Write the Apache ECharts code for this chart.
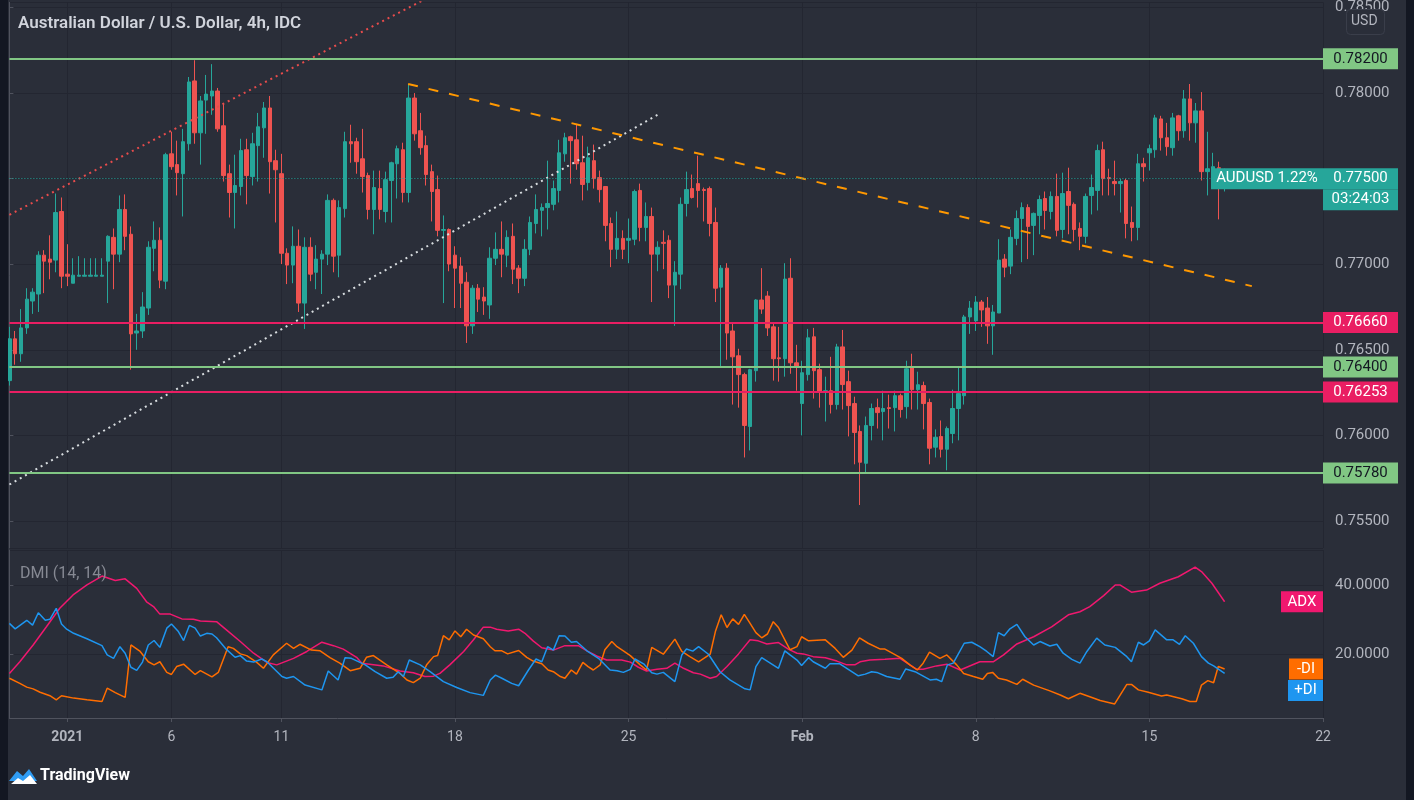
<!DOCTYPE html>
<html><head><meta charset="utf-8">
<script src="https://cdn.jsdelivr.net/npm/echarts@6/dist/echarts.min.js"></script>
<style>html,body{margin:0;padding:0;background:#2a2e39;}#c{width:1414px;height:800px;}</style>
</head><body><div id="c"></div>
<script>
// ---------- DATA ----------
const opens = [0.76320,0.76564,0.76477,0.76628,0.76785,0.76826,0.77053,0.77030,0.77024,0.77308,0.76942,0.76889,0.76930,0.76930,0.76930,0.76930,0.76930,0.77018,0.77157,0.77059,
0.77320,0.77175,0.76598,0.76610,0.76744,0.77093,0.77140,0.76901,0.77645,0.77582,0.77529,0.77704,0.78071,0.77768,0.77959,0.77983,0.78012,0.77809,0.77529,0.77419,
0.77454,0.77669,0.77512,0.77693,0.77797,0.77913,0.77605,0.77529,0.77064,0.76995,0.77105,0.76773,0.77099,0.76953,0.77030,0.77059,0.77373,0.77053,0.77325,0.77716,
0.77716,0.77616,0.77518,0.77320,0.77442,0.77308,0.77489,0.77587,0.77669,0.77419,0.77971,0.77780,0.77693,0.77541,0.77436,0.77198,0.77203,0.77053,0.76989,0.76895,
0.76640,0.76860,0.76808,0.76762,0.77035,0.77087,0.77053,0.77163,0.76977,0.76918,0.77087,0.77238,0.77315,0.77331,0.77350,0.77431,0.77645,0.77745,0.77727,0.77593,
0.77477,0.77605,0.77506,0.77454,0.77238,0.77087,0.77151,0.77140,0.77146,0.77431,0.77215,0.77279,0.77059,0.77128,0.77140,0.76878,0.76942,0.77355,0.77442,0.77471,
0.77436,0.77442,0.77244,0.76866,0.76977,0.76610,0.76465,0.76355,0.76052,0.76378,0.76791,0.76814,0.76634,0.76453,0.76448,0.76918,0.76424,0.76186,0.76355,0.76576,
0.76384,0.76256,0.76261,0.76180,0.76517,0.76314,0.76186,0.76023,0.75837,0.76058,0.76162,0.76139,0.76162,0.76162,0.76232,0.76168,0.76395,0.76267,0.76291,0.76192,
0.75931,0.75994,0.75919,0.76011,0.76157,0.76232,0.76692,0.76669,0.76779,0.76744,0.76640,0.76715,0.77030,0.76989,0.77151,0.77267,0.77331,0.77227,0.77285,0.77384,
0.77308,0.77396,0.77203,0.77425,0.77350,0.77209,0.77163,0.77402,0.77431,0.77669,0.77506,0.77483,0.77471,0.77489,0.77244,0.77215,0.77587,0.77651,0.77669,0.77849,
0.77739,0.77681,0.77867,0.77780,0.77966,0.77826,0.77896,0.77541,0.77547,0.77564,0.77483];
const closes = [0.76564,0.76477,0.76628,0.76796,0.76837,0.77053,0.77018,0.77012,0.77302,0.76930,0.76930,0.76936,0.76936,0.76936,0.76936,0.76936,0.76936,0.77163,0.77059,0.77320,
0.77163,0.76593,0.76610,0.76750,0.77099,0.77140,0.76907,0.77640,0.77570,0.77535,0.77716,0.78065,0.77768,0.77954,0.77994,0.78012,0.77791,0.77518,0.77419,0.77460,
0.77664,0.77518,0.77704,0.77803,0.77913,0.77599,0.77552,0.77064,0.76995,0.77105,0.76773,0.77099,0.76942,0.77030,0.77059,0.77373,0.77047,0.77331,0.77716,0.77704,
0.77599,0.77512,0.77320,0.77448,0.77320,0.77494,0.77593,0.77675,0.77419,0.77971,0.77762,0.77681,0.77524,0.77425,0.77198,0.77203,0.77001,0.76977,0.76889,0.76640,
0.76860,0.76796,0.76785,0.77035,0.77087,0.77059,0.77157,0.76971,0.76918,0.77087,0.77244,0.77320,0.77331,0.77355,0.77442,0.77651,0.77739,0.77722,0.77587,0.77466,
0.77622,0.77500,0.77436,0.77227,0.77087,0.77151,0.77087,0.77151,0.77425,0.77215,0.77279,0.77059,0.77099,0.77122,0.76878,0.76953,0.77350,0.77436,0.77390,0.77431,
0.77431,0.77238,0.76860,0.76977,0.76598,0.76459,0.76355,0.76058,0.76384,0.76791,0.76738,0.76628,0.76448,0.76448,0.76913,0.76424,0.76401,0.76366,0.76570,0.76378,
0.76256,0.76261,0.76180,0.76517,0.76297,0.76174,0.76017,0.75843,0.76058,0.76157,0.76133,0.76157,0.76157,0.76232,0.76151,0.76389,0.76267,0.76296,0.76186,0.75925,
0.75989,0.75919,0.76040,0.76157,0.76244,0.76692,0.76744,0.76779,0.76733,0.76640,0.76721,0.77024,0.76983,0.77157,0.77267,0.77331,0.77221,0.77297,0.77378,0.77314,
0.77396,0.77198,0.77413,0.77344,0.77203,0.77163,0.77396,0.77448,0.77664,0.77500,0.77500,0.77471,0.77483,0.77238,0.77215,0.77587,0.77570,0.77675,0.77855,0.77739,
0.77687,0.77855,0.77780,0.77966,0.77826,0.77896,0.77541,0.77558,0.77570,0.77529,0.77500];
const lows = [0.76291,0.76413,0.76430,0.76593,0.76710,0.76721,0.76831,0.76912,0.76953,0.76860,0.76872,0.76889,0.76930,0.76930,0.76930,0.76930,0.76930,0.76773,0.76854,0.77012,
0.77082,0.76384,0.76500,0.76569,0.76704,0.76959,0.76860,0.76854,0.77552,0.77402,0.77279,0.77664,0.77704,0.77582,0.77762,0.77873,0.77774,0.77483,0.77273,0.77209,
0.77402,0.77350,0.77460,0.77483,0.77622,0.77413,0.77244,0.77001,0.76884,0.76889,0.76721,0.76622,0.76901,0.76854,0.76826,0.76995,0.76953,0.76924,0.77273,0.77593,
0.77529,0.77419,0.77262,0.77175,0.77262,0.77244,0.77244,0.77384,0.77361,0.77361,0.77722,0.77640,0.77460,0.77250,0.77163,0.76773,0.76959,0.76744,0.76744,0.76540,
0.76593,0.76721,0.76704,0.76681,0.76995,0.76924,0.76983,0.76884,0.76831,0.76872,0.77053,0.77180,0.77163,0.77203,0.77315,0.77361,0.77599,0.77471,0.77552,0.77373,
0.77431,0.77442,0.77361,0.77134,0.76983,0.77030,0.77030,0.77006,0.77111,0.77134,0.77134,0.76779,0.76959,0.76971,0.76802,0.76640,0.76854,0.77279,0.77384,0.77331,
0.77250,0.77163,0.76779,0.76395,0.76442,0.76180,0.76162,0.75871,0.75912,0.76314,0.76710,0.76581,0.76320,0.76314,0.76343,0.76360,0.76261,0.76000,0.76320,0.76215,
0.76162,0.76081,0.76128,0.76151,0.76151,0.75994,0.75831,0.75593,0.75785,0.75971,0.76040,0.75971,0.76040,0.76023,0.76104,0.76098,0.76151,0.76151,0.76035,0.75831,
0.75871,0.75871,0.75796,0.75954,0.75971,0.76180,0.76593,0.76610,0.76634,0.76535,0.76471,0.76715,0.76924,0.76942,0.77111,0.77012,0.77030,0.77053,0.77175,0.77203,
0.77262,0.77163,0.77151,0.77175,0.77134,0.77082,0.77122,0.77291,0.77314,0.77402,0.77402,0.77402,0.77302,0.77151,0.77134,0.77140,0.77483,0.77547,0.77622,0.77664,
0.77634,0.77634,0.77722,0.77739,0.77722,0.77710,0.77489,0.77402,0.77442,0.77262,0.77425];
const highs = [0.76634,0.76610,0.76738,0.76860,0.76860,0.77076,0.77082,0.77169,0.77413,0.77390,0.77117,0.77035,0.77047,0.77035,0.77035,0.77035,0.77035,0.77169,0.77209,0.77402,
0.77408,0.77221,0.76710,0.76837,0.77134,0.77250,0.77215,0.77651,0.77774,0.77722,0.77791,0.78094,0.78192,0.77983,0.78106,0.78169,0.78030,0.77942,0.77582,0.77640,
0.77733,0.77733,0.77768,0.77884,0.77948,0.77983,0.77669,0.77645,0.77093,0.77221,0.77203,0.77157,0.77157,0.77111,0.77082,0.77408,0.77384,0.77373,0.77774,0.77815,
0.77739,0.77791,0.77535,0.77547,0.77547,0.77541,0.77599,0.77693,0.77710,0.78053,0.78000,0.77884,0.77751,0.77582,0.77518,0.77285,0.77209,0.77105,0.77041,0.76953,
0.76878,0.76884,0.76866,0.77099,0.77186,0.77250,0.77198,0.77238,0.76995,0.77146,0.77279,0.77408,0.77355,0.77605,0.77489,0.77727,0.77768,0.77751,0.77820,0.77751,
0.77687,0.77699,0.77547,0.77454,0.77273,0.77308,0.77198,0.77267,0.77436,0.77471,0.77361,0.77331,0.77134,0.77198,0.77169,0.77018,0.77390,0.77541,0.77524,0.77634,
0.77448,0.77454,0.77331,0.76995,0.77006,0.76657,0.76506,0.76366,0.76389,0.76796,0.76977,0.76843,0.76651,0.76634,0.77006,0.77035,0.76529,0.76436,0.76622,0.76628,
0.76419,0.76343,0.76459,0.76535,0.76616,0.76378,0.76226,0.76058,0.76110,0.76186,0.76215,0.76261,0.76238,0.76261,0.76244,0.76436,0.76477,0.76372,0.76314,0.76215,
0.76035,0.76087,0.76052,0.76267,0.76395,0.76704,0.76785,0.76814,0.76791,0.76808,0.76762,0.77146,0.77059,0.77203,0.77314,0.77361,0.77350,0.77302,0.77402,0.77425,
0.77425,0.77529,0.77535,0.77564,0.77361,0.77244,0.77413,0.77524,0.77699,0.77716,0.77558,0.77605,0.77500,0.77500,0.77337,0.77645,0.77622,0.77699,0.77873,0.77867,
0.77826,0.77884,0.77873,0.78018,0.78053,0.77942,0.78006,0.77774,0.77651,0.77599,0.77558];

// DMI(14,14) readings: [bar index, value]
const adx = [[0,14.4],[1.8,17.8],[4.1,22.7],[6.4,28.0],[8.7,33.4],[11.0,37.3],[13.4,40.2],[16.0,42.8],[18.3,41.5],[20.0,42.0],[22.0,39.2],[23.7,35.3],[24.9,33.9],[26.0,31.7],[27.8,31.7],[29.8,30.3],[31.8,30.2],[33.0,29.7],[35.8,29.5],[37.5,27.1],[39.9,23.7],[42.2,20.3],[44.5,17.6],[46.2,16.9],[49.1,18.8],[51.4,20.8],[54.0,23.5],[56.0,22.5],[57.7,21.5],[60.0,19.1],[60.9,17.4],[64.6,16.6],[67.5,15.1],[69.8,14.6],[71.8,13.5],[73.3,13.6],
[74.4,14.4],[76.1,16.9],[78.5,20.8],[80.2,24.2],[81.9,27.9],[83.1,27.9],[84.2,27.3],[86.2,26.8],[88.0,27.3],[89.1,26.1],[90.5,23.9],[92.0,21.9],[92.9,21.6],[94.0,21.2],[96.0,22.5],[98.3,22.5],[99.8,21.0],[101.5,19.5],[103.2,18.3],[105.8,18.3],[107.3,17.7],[108.7,16.2],[110.1,15.1],[111.9,15.6],[113.6,15.9],[115.0,17.4],[116.5,15.9],[118.2,14.6],[119.4,14.2],[121.1,13.0],[122.2,13.5],[124.0,16.4],[126.0,20.1],[128.0,24.2],[129.4,23.9],[130.9,23.0],[132.9,23.4],[134.6,21.5],[136.1,20.3],[137.2,20.1],[138.9,19.3],[141.0,19.0],[143.0,18.0],[144.7,16.9],[146.1,16.9],
[147.0,17.8],[148.7,18.3],[151.3,18.5],[153.9,18.8],[156.8,15.6],[157.9,15.6],[160.2,16.6],[162.0,17.1],[164.3,15.4],[167.7,17.8],[170.0,17.8],[171.8,19.8],[174.1,23.0],[177.0,25.1],[180.1,28.0],[183.0,31.5],[185.0,32.4],[186.7,33.9],[189.1,37.1],[191.1,40.2],[191.9,40.2],[193.9,38.1],[196.5,38.7],[198.8,40.7],[202.0,42.6],[204.9,45.4],[206.0,44.1],[207.8,40.7],[210.0,35.3]];
const minusDI = [[0,13.0],[1.8,11.5],[3.0,10.4],[4.1,9.9],[5.3,8.9],[7.0,7.9],[8.1,6.7],[9.0,7.9],[11.1,7.2],[13.4,6.7],[16.0,6.2],[16.9,10.1],[18.3,8.8],[20.0,7.4],[21.0,22.7],[22.6,20.8],[24.0,17.8],[25.0,16.9],[26.0,17.8],[27.2,14.7],[28.0,14.1],[28.9,16.4],[30.1,17.1],[32.1,14.1],[33.0,15.2],[35.0,13.4],[36.1,14.7],[37.8,22.2],[38.7,21.7],[39.9,20.1],[41.0,19.6],[42.7,17.7],[43.9,15.9],[45.6,19.8],[47.9,23.2],[49.1,21.7],[50.2,22.9],[52.2,21.2],[53.7,21.0],[55.4,19.0],[57.1,17.4],[58.9,15.2],[60.6,15.9],[61.7,19.1],[62.9,19.6],[65.2,16.9],[67.5,14.4],[68.7,12.5],[69.8,11.7],[71.0,13.0],[72.1,16.9],[73.3,19.3],[74.0,19.6],
[75.0,25.4],[76.0,24.2],[77.0,26.8],[78.0,25.1],[79.0,27.3],[80.2,25.6],[81.9,24.5],[83.1,22.2],[83.9,21.0],[85.1,21.0],[86.1,20.1],[88.0,21.1],[89.4,19.1],[90.5,18.0],[92.0,17.2],[93.1,15.4],[94.0,14.9],[95.2,13.5],[96.0,13.0],[97.1,15.4],[98.0,14.2],[99.1,17.6],[100.0,16.4],[100.9,15.4],[102.1,16.9],[102.9,21.3],[104.1,23.7],[105.0,22.2],[106.1,21.0],[107.3,19.6],[109.0,16.9],[110.1,15.4],[111.0,22.0],[113.0,20.0],[115.0,24.4],[116.2,20.8],[117.6,19.3],[119.1,17.8],[121.1,20.0],[122.0,26.6],[123.0,31.5],[124.0,27.8],[125.0,30.3],[126.0,28.7],[127.0,31.6],[128.0,29.0],[129.0,26.3],[130.0,24.8],[131.0,25.9],[132.0,29.5],[132.9,27.8],[134.0,24.2],[134.9,21.3],[136.1,22.2],[136.9,25.1],[138.1,23.9],[141.0,24.2],[142.7,21.7],[144.1,19.1],[145.6,21.2],[146.9,24.8],
[148.4,23.2],[150.5,21.5],[151.3,21.5],[152.8,20.1],[154.2,18.8],[155.6,16.9],[156.9,15.4],[157.9,17.4],[159.0,20.6],[160.8,18.8],[162.0,19.8],[163.7,16.9],[164.9,14.4],[166.6,13.5],[168.2,12.7],[169.0,14.4],[169.9,14.7],[170.9,13.0],[172.3,12.5],[174.1,11.2],[175.1,12.7],[177.0,11.0],[179.8,9.3],[181.6,8.1],[183.0,7.0],[185.0,8.6],[186.7,7.6],[188.5,6.5],[191.0,5.5],[193.1,11.2],[193.9,11.2],[195.1,9.6],[196.8,8.9],[199.1,7.8],[200.0,8.1],[202.6,7.0],[204.0,6.2],[205.1,6.2],[206.0,11.0],[207.1,12.3],[208.1,11.7],[208.9,16.4],[210.0,15.7]];
const plusDI = [[0,29.0],[1.0,27.4],[3.0,29.9],[4.0,28.5],[5.0,32.1],[6.2,29.9],[7.0,30.2],[8.1,33.4],[9.0,28.8],[9.9,27.3],[11.1,26.1],[13.4,24.5],[16.0,22.5],[16.9,19.8],[18.0,18.8],[19.1,22.2],[20.0,20.3],[21.0,16.2],[22.0,15.3],[23.0,17.7],[24.0,22.7],[25.0,24.0],[26.0,22.0],[27.2,27.6],[28.0,28.8],[29.2,26.6],[30.1,24.0],[31.1,28.4],[32.1,27.6],[33.0,25.3],[34.1,26.1],[35.0,25.9],[35.8,24.8],[37.5,21.4],[39.0,19.1],[39.9,19.6],[41.0,18.0],[42.2,17.7],[43.6,18.6],[44.5,17.8],[47.1,13.5],[47.9,13.0],[49.1,13.5],[51.1,11.0],[54.0,9.6],[55.1,15.1],[56.8,12.5],[58.0,19.0],[59.1,18.8],[61.5,16.9],[63.2,14.9],[65.2,13.0],[66.3,13.3],[67.2,14.9],[68.1,13.5],[69.1,18.3],[71.0,16.9],[72.7,14.9],
[75.0,12.0],[77.3,10.3],[79.6,8.8],[81.9,8.0],[83.1,12.5],[84.0,13.9],[85.1,13.0],[86.8,11.5],[88.0,10.8],[89.7,15.4],[91.0,18.6],[92.0,17.8],[93.0,22.2],[94.0,21.2],[95.0,25.4],[96.0,25.3],[97.1,23.5],[98.0,23.7],[99.8,21.0],[101.8,18.8],[103.8,15.4],[105.0,15.2],[106.1,14.7],[107.3,15.6],[108.1,18.6],[109.6,17.2],[111.0,14.6],[111.9,14.2],[113.0,14.7],[115.0,12.0],[116.2,19.8],[117.0,21.5],[118.1,20.9],[119.1,22.2],[120.8,20.0],[122.8,14.9],[124.5,12.5],[127.1,9.9],[128.0,9.6],[129.0,16.4],[130.0,19.0],[132.9,15.9],[134.0,21.0],[134.9,19.8],[136.1,18.3],[136.9,16.7],[138.1,19.0],[138.9,17.8],[141.0,15.9],[141.8,17.2],[143.5,17.2],[146.7,13.7],
[147.9,14.2],[149.0,14.9],[149.9,14.7],[151.6,13.5],[153.9,12.7],[154.9,15.7],[156.5,14.9],[159.1,12.5],[160.2,12.7],[161.1,12.0],[162.1,16.9],[163.1,17.4],[165.0,23.2],[166.3,23.5],[167.7,22.2],[168.9,20.8],[170.0,19.3],[170.9,26.3],[171.9,25.4],[172.9,27.4],[174.1,28.7],[175.5,25.1],[177.0,22.7],[178.1,23.7],[179.8,22.4],[181.0,22.9],[182.1,20.3],[183.6,18.5],[185.0,17.4],[186.2,20.8],[187.9,24.7],[189.3,22.7],[191.1,22.0],[193.1,19.3],[193.9,17.8],[195.1,23.5],[196.0,22.7],[197.0,23.9],[198.0,27.1],[200.0,24.2],[201.1,24.2],[202.2,22.9],[203.2,25.4],[204.6,23.2],[206.0,19.3],[207.2,17.4],[208.1,16.6],[210.0,14.4]];

// Date tick labels (bar index -> text)
const tickIdx  = [10, 28, 47, 77, 107, 137, 167, 197, 227];
const tickText = ['2021', '6', '11', '18', '25', 'Feb', '8', '15', '22'];
const boldTicks = ['2021', 'Feb'];

// Horizontal levels
const levelPrices = [0.78200, 0.76660, 0.76400, 0.76253, 0.75780];
const levelKinds  = ['res', 'sup', 'res', 'sup', 'res'];

// Trend lines: [bar index, price]
const redTrend    = [[0, 0.77289], [80, 0.78692]];
const whiteTrend  = [[0, 0.75713], [112.4, 0.77880]];
const orangeTrend = [[68.9, 0.78053], [214.7, 0.76872]];

const symbolName = 'AUDUSD';
const lastPrice = 0.77500;
const lastChange = '1.22%';
const countdown = '03:24:03';
const title = 'Australian Dollar / U.S. Dollar, 4h, IDC';
const indicatorName = 'DMI (14, 14)';
const N_SLOTS = 228;

// ---------- CHART ----------
const FONT = 'Roboto, "Noto Sans", sans-serif';
const FS = 15;
const BG = '#2a2e39', GRIDC = '#232631', AXC = '#50535e', TXT = '#b2b5be';
const UP = '#26a69a', DOWN = '#ef5350';
const GREEN = '#81c784', PINK = '#e91e63';
const C_ADX = '#f0186f', C_MDI = '#ff6d00', C_PDI = '#1e96f0';
const NOLINE = 'rgba(0,0,0,0)';

const cats = Array.from({length: N_SLOTS}, (_, i) => String(i));
const tickSet = new Set(tickIdx);
const isTick = (i) => tickSet.has(i);
const candles = opens.map((o, i) => [o, closes[i], lows[i], highs[i]]);

function tag(text, bg, fg, w) {
  return {
    formatter: '{p|' + text + '}',
    rich: { p: { backgroundColor: bg, color: fg, width: w, height: 21, lineHeight: 21, align: 'center', fontSize: FS, fontFamily: FONT } }
  };
}

const levelLines = levelPrices.map((p, i) => {
  const c = levelKinds[i] === 'res' ? GREEN : PINK;
  const fg = levelKinds[i] === 'res' ? '#131722' : '#ffffff';
  return {
    yAxis: p,
    lineStyle: { color: c, width: 2, type: 'solid' },
    label: Object.assign({ show: true, position: 'end', distance: 0 }, tag(p.toFixed(5), c, fg, 75))
  };
});

const priceLine = {
  yAxis: lastPrice,
  lineStyle: { color: UP, width: 1, type: [1, 2] },
  label: {
    show: true, position: 'end', distance: 0,
    formatter: '{e| }\n{p|' + lastPrice.toFixed(5) + '}\n{t|' + countdown + '}',
    rich: {
      e: { height: 21, lineHeight: 21, fontSize: 1 },
      p: { backgroundColor: UP, color: '#fff', width: 75, height: 21, lineHeight: 21, align: 'center', fontSize: FS, fontFamily: FONT },
      t: { backgroundColor: UP, color: '#fff', width: 75, height: 21, lineHeight: 21, align: 'center', fontSize: FS, fontFamily: FONT }
    }
  }
};
const symbolTag = {
  yAxis: lastPrice,
  lineStyle: { color: NOLINE, width: 0 },
  label: Object.assign({ show: true, position: 'insideEnd', distance: 0 }, tag(symbolName + ' ' + lastChange, UP, '#fff', 112))
};

function dmiTag(val, text, color, w, shift) {
  const lab = tag(text, color, '#fff', w);
  if (shift) {
    lab.formatter = '{e| }\n' + lab.formatter;
    lab.rich.e = { height: shift, lineHeight: shift, fontSize: 1 };
  }
  return { yAxis: val, lineStyle: { color: NOLINE, width: 0 }, label: Object.assign({ show: true, position: 'insideEnd', distance: 0 }, lab) };
}

const trend = (data, color, type) => ({
  type: 'line', xAxisIndex: 2, yAxisIndex: 0, data, showSymbol: false, silent: true, clip: true,
  lineStyle: { color, width: 2, type }, z: 3, animation: false
});
const dmiLine = (data, color, tagItem) => ({
  type: 'line', xAxisIndex: 3, yAxisIndex: 1, data, showSymbol: false, silent: true,
  lineStyle: { color, width: 1.5 }, animation: false,
  markLine: { symbol: ['none', 'none'], silent: true, animation: false, precision: 4, data: [tagItem] }
});

const chart = echarts.init(document.getElementById('c'), null, { renderer: 'canvas' });
chart.setOption({
  backgroundColor: BG,
  animation: false,
  textStyle: { fontFamily: FONT },
  title: [
    { text: title, left: 13, top: 10, textStyle: { color: '#d1d4dc', fontSize: 17, fontWeight: 600, fontFamily: FONT } },
    { text: indicatorName, left: 15, top: 561, textStyle: { color: '#868993', fontSize: 16, fontWeight: 'normal', fontFamily: FONT } }
  ],
  grid: [
    { left: 9.4, right: 91, top: 0, height: 548 },
    { left: 9.4, right: 91, top: 550, height: 168 }
  ],
  xAxis: [
    { type: 'category', gridIndex: 0, data: cats, boundaryGap: false, position: 'bottom',
      axisLine: { show: false, onZero: false }, axisTick: { show: false }, axisLabel: { show: false },
      splitLine: { show: true, interval: isTick, lineStyle: { color: GRIDC, width: 1 } } },
    { type: 'category', gridIndex: 1, data: cats, boundaryGap: false, position: 'bottom',
      axisLine: { show: true, onZero: false, lineStyle: { color: AXC } },
      axisTick: { show: true, interval: isTick, length: 4, lineStyle: { color: AXC } },
      axisLabel: { interval: isTick, margin: 12, color: TXT, fontSize: 14, fontFamily: FONT,
        formatter: (v, i) => { const t = tickText[tickIdx.indexOf(i)] || ''; return boldTicks.includes(t) ? '{b|' + t + '}' : t; },
        rich: { b: { fontWeight: 'bold', color: TXT, fontSize: 14, fontFamily: FONT } } },
      splitLine: { show: true, interval: isTick, lineStyle: { color: GRIDC, width: 1 } } },
    { type: 'value', gridIndex: 0, min: 0, max: N_SLOTS - 1, show: false, position: 'top' },
    { type: 'value', gridIndex: 1, min: 0, max: N_SLOTS - 1, show: false, position: 'top' }
  ],
  yAxis: [
    { type: 'value', gridIndex: 0, position: 'right', offset: 2, min: 0.75342, max: 0.78530, splitNumber: 6,
      axisLine: { show: true, lineStyle: { color: AXC } }, axisTick: { show: true, length: 4, lineStyle: { color: AXC } },
      axisLabel: { showMinLabel: false, showMaxLabel: false, margin: 10, padding: [4, 0, 0, 0], color: TXT, fontSize: FS, fontFamily: FONT, formatter: v => v.toFixed(5) },
      splitLine: { show: true, lineStyle: { color: GRIDC } } },
    { type: 'value', gridIndex: 1, position: 'right', offset: 2, min: 1.4, max: 50.4, splitNumber: 2,
      axisLine: { show: true, lineStyle: { color: AXC } }, axisTick: { show: true, length: 4, lineStyle: { color: AXC } },
      axisLabel: { showMinLabel: false, showMaxLabel: false, margin: 10, padding: [5, 0, 0, 0], color: TXT, fontSize: FS, fontFamily: FONT, formatter: v => v.toFixed(4) },
      splitLine: { show: true, lineStyle: { color: GRIDC } } }
  ],
  graphic: [
    { type: 'rect', left: 0, top: 0, shape: { width: 8, height: 800 }, style: { fill: '#131722' }, z: 100, silent: true },
    { type: 'rect', left: 1406, top: 0, shape: { width: 8, height: 800 }, style: { fill: '#131722' }, z: 100, silent: true },
    { type: 'rect', left: 1346, top: 9, shape: { width: 38, height: 25, r: 4 }, style: { fill: BG, stroke: '#3a3e4a', lineWidth: 1 }, z: 100 },
    { type: 'text', left: 1351, top: 14, style: { text: 'USD', fill: TXT, fontSize: 14, fontFamily: FONT }, z: 101 },
    { type: 'text', left: 40, top: 768, style: { text: 'TradingView', fill: '#ffffff', fontSize: 16, fontWeight: 'bold', fontFamily: FONT }, z: 101 },
    { type: 'polygon', left: 9, top: 769, shape: { points: [[0,14],[8,4],[14,9],[20,2],[28,14]] }, style: { fill: '#2f9cf4' }, z: 101 },
    { type: 'polygon', left: 11, top: 775, shape: { points: [[0,9],[7,3],[12,6],[19,0],[26,9]] }, style: { fill: '#ffffff' }, z: 102 }
  ],
  series: [
    { type: 'candlestick', xAxisIndex: 0, yAxisIndex: 0, data: candles, barWidth: 4, clip: false, z: 2,
      itemStyle: { color: UP, color0: DOWN, borderColor: UP, borderColor0: DOWN, borderWidth: 1 },
      markLine: { symbol: ['none', 'none'], silent: true, animation: false, precision: 5, z: 5,
        data: levelLines.concat([priceLine, symbolTag]) } },
    trend(redTrend, '#e84c4c', [2, 4]),
    trend(whiteTrend, '#d8dde0', [2, 4]),
    trend(orangeTrend, '#ff9800', [10, 11]),
    dmiLine(adx, C_ADX, dmiTag(adx[adx.length - 1][1], 'ADX', C_ADX, 42, 0)),
    dmiLine(minusDI, C_MDI, dmiTag(minusDI[minusDI.length - 1][1], '-DI', C_MDI, 34, 0)),
    dmiLine(plusDI, C_PDI, dmiTag(plusDI[plusDI.length - 1][1], '+DI', C_PDI, 35, 34))
  ]
});
</script></body></html>
